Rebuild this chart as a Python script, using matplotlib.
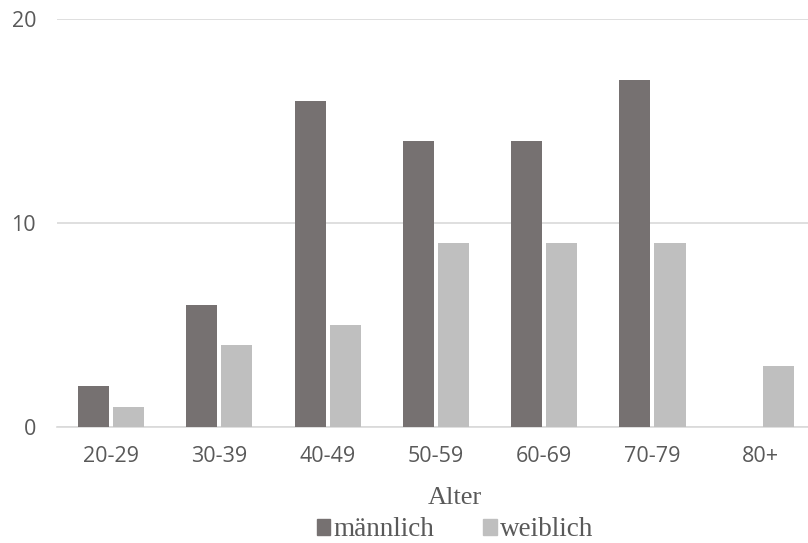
import numpy as np
import matplotlib
matplotlib.use('Agg')
import matplotlib.pyplot as plt
from matplotlib.patches import Patch

# Age groups and counts per gender
categories = ['20-29', '30-39', '40-49', '50-59', '60-69', '70-79', '80+']
maennlich = [2, 6, 16, 14, 14, 17, 0]
weiblich = [1, 4, 5, 9, 9, 9, 3]

c_m = '#767171'
c_w = '#BFBFBF'

fig = plt.figure(figsize=(8.08, 5.43), dpi=100)
# plot area runs slightly past the right edge of the figure
ax = fig.add_axes([0.0705, 0.2136, 0.938, 0.7514])

x = np.arange(len(categories))
w = 0.287
ax.bar(x - 0.162, maennlich, w, color=c_m, zorder=3)
ax.bar(x + 0.162, weiblich, w, color=c_w, zorder=3)

ax.set_xlim(-0.5, len(categories) - 0.5)
ax.set_ylim(0, 20)
ax.set_yticks([0, 10, 20])
ax.yaxis.grid(True, color='#D9D9D9', linewidth=1.2, zorder=0)
for s in ['top', 'right', 'left']:
    ax.spines[s].set_visible(False)
ax.spines['bottom'].set_color('#D9D9D9')
ax.spines['bottom'].set_linewidth(1.2)
ax.tick_params(length=0, labelsize=15.5, colors='#595959')
ax.tick_params(axis='x', pad=14)
ax.tick_params(axis='y', pad=15)
ax.set_xticks(x)
ax.set_xticklabels(categories, fontfamily='Open Sans')
for lab in ax.get_yticklabels():
    lab.set_fontfamily('Open Sans')

fig.text(455 / 808, 1 - 498 / 543, 'Alter', ha='center', va='center',
         fontfamily='Liberation Serif', fontsize=19, color='#595959')

handles = [Patch(color=c_m, label='männlich'), Patch(color=c_w, label='weiblich')]
fig.legend(handles=handles, loc='center', bbox_to_anchor=(455 / 808, 1 - 530 / 543),
           ncol=2, frameon=False, prop={'family': 'Liberation Serif', 'size': 19.5},
           labelcolor='#595959', handlelength=0.5, handleheight=0.5,
           handletextpad=0.12, columnspacing=1.8, borderpad=0)

fig.savefig('out.png', dpi=100)
